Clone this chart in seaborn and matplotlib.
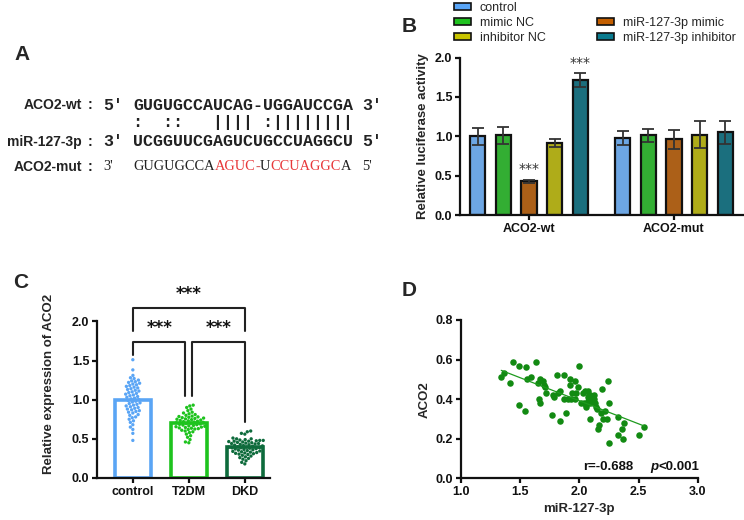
import numpy as np
import pandas as pd
import matplotlib
matplotlib.use('Agg')
import matplotlib.pyplot as plt
from matplotlib.patches import Patch
import seaborn as sns

# ---------------- data ----------------
# A: binding site sequences
wt_seq = 'GUGUGCCAUCAG-UGGAUCCGA'
pair_line = ':  ::   |||| :||||||||'
mir_seq = 'UCGGUUCGAGUCUGCCUAGGCU'
mut_parts = ['GUGUGCCA', 'AGUC', '-', 'U', 'CCUAGGC', 'A']
mut_colors = ['#222222', '#e8383a', '#d86060', '#222222', '#e8383a', '#222222']

# B: dual luciferase assay
constructs = ['ACO2-wt', 'ACO2-mut']
groups = ['control', 'mimic NC', 'miR-127-3p mimic', 'inhibitor NC', 'miR-127-3p inhibitor']
group_colors = ['#59a5f7', '#1fc21f', '#c45f00', '#c8c400', '#0a7b8f']
luc_wt = [1.00, 1.01, 0.43, 0.91, 1.71]
luc_wt_sd = [0.11, 0.11, 0.02, 0.05, 0.09]
luc_mut = [0.98, 1.01, 0.96, 1.02, 1.05]
luc_mut_sd = [0.09, 0.085, 0.125, 0.175, 0.145]
luc_wt_sig = ['', '', '***', '', '***']

# C: ACO2 expression per patient
c_groups = ['control', 'T2DM', 'DKD']
c_colors = ['#5aa5f5', '#1ec31e', '#0e6b3c']
expr_control = [1.51, 1.38, 1.31, 1.28, 1.27, 1.25, 1.24, 1.22, 1.21, 1.20,
                1.18, 1.17, 1.16, 1.14, 1.13, 1.12, 1.10, 1.09, 1.08, 1.06,
                1.05, 1.04, 1.02, 1.01, 1.00, 0.99, 0.97, 0.96, 0.95, 0.93,
                0.92, 0.91, 0.89, 0.88, 0.87, 0.85, 0.84, 0.83, 0.81, 0.80,
                0.78, 0.77, 0.75, 0.73, 0.71, 0.68, 0.65, 0.62, 0.57, 0.48,
                1.23, 1.19, 1.11, 1.03, 0.98, 0.94, 0.90, 0.86, 1.15, 1.07]
expr_t2dm = [0.93, 0.92, 0.90, 0.88, 0.86, 0.84, 0.83, 0.82, 0.81, 0.80,
             0.79, 0.785, 0.78, 0.77, 0.765, 0.76, 0.75, 0.745, 0.74, 0.73,
             0.725, 0.72, 0.71, 0.705, 0.70, 0.695, 0.69, 0.68, 0.675, 0.67,
             0.66, 0.655, 0.65, 0.64, 0.635, 0.63, 0.62, 0.61, 0.60, 0.59,
             0.58, 0.56, 0.54, 0.52, 0.49, 0.46, 0.45, 0.715, 0.685, 0.755,
             0.645, 0.775, 0.625, 0.735, 0.665]
expr_dkd = [0.60, 0.59, 0.57, 0.56, 0.50, 0.44, 0.48, 0.47, 0.51, 0.50,
            0.49, 0.485, 0.48, 0.47, 0.465, 0.46, 0.45, 0.445, 0.44, 0.43,
            0.425, 0.42, 0.41, 0.405, 0.40, 0.395, 0.39, 0.385, 0.38, 0.375,
            0.37, 0.365, 0.36, 0.35, 0.345, 0.34, 0.33, 0.325, 0.32, 0.31,
            0.30, 0.29, 0.28, 0.27, 0.26, 0.25, 0.24, 0.22, 0.20, 0.18,
            0.415, 0.355, 0.435, 0.335, 0.455, 0.315, 0.475, 0.305, 0.395, 0.385]
# brackets: (left group, right group, bar height, left leg end, right leg end, label)
c_brackets = [(0, 2, 2.17, 1.88, 1.88, '***'),
              (0, 1, 1.74, 1.57, 1.05, '***'),
              (1, 2, 1.74, 1.05, 0.71, '***')]

# D: correlation
mir_level = [1.34, 1.36, 1.41, 1.44, 1.49, 1.49, 1.54, 1.55, 1.56, 1.59, 1.63, 1.65,
             1.67, 1.66, 1.67, 1.70, 1.71, 1.72, 1.77, 1.78, 1.79, 1.81, 1.84, 1.84,
             1.87, 1.87, 1.89, 1.90, 1.92, 1.92, 1.94, 1.96, 1.96, 1.97, 1.99, 2.00,
             2.01, 2.03, 2.04, 2.06, 2.06, 2.07, 2.07, 2.09, 2.09, 2.10, 2.12, 2.13,
             2.15, 2.16, 2.17, 2.18, 2.19, 2.20, 2.22, 2.23, 2.24, 2.25, 2.25, 2.33,
             2.33, 2.36, 2.37, 2.38, 2.50, 2.55,
             2.05, 2.08, 2.10, 2.07, 2.12, 2.09, 1.93, 1.82, 1.69, 2.14]
aco2_level = [0.51, 0.53, 0.48, 0.59, 0.57, 0.37, 0.34, 0.56, 0.50, 0.51, 0.59, 0.48,
              0.50, 0.40, 0.38, 0.47, 0.46, 0.43, 0.32, 0.42, 0.41, 0.52, 0.44, 0.29,
              0.52, 0.40, 0.33, 0.40, 0.47, 0.50, 0.43, 0.40, 0.49, 0.43, 0.46, 0.57,
              0.38, 0.43, 0.38, 0.37, 0.36, 0.44, 0.41, 0.30, 0.42, 0.40, 0.40, 0.38,
              0.35, 0.25, 0.27, 0.33, 0.45, 0.30, 0.34, 0.30, 0.49, 0.38, 0.18, 0.31,
              0.22, 0.25, 0.20, 0.28, 0.22, 0.26,
              0.44, 0.42, 0.41, 0.39, 0.42, 0.38, 0.40, 0.43, 0.49, 0.36]

# ---------------- style ----------------
sns.set_style('ticks')
plt.rcParams['font.family'] = ['Liberation Sans', 'DejaVu Sans']
plt.rcParams['font.weight'] = 'bold'
plt.rcParams['axes.labelweight'] = 'bold'
plt.rcParams['axes.labelsize'] = 9.5
plt.rcParams['xtick.labelsize'] = 9
plt.rcParams['ytick.labelsize'] = 9
plt.rcParams['axes.linewidth'] = 1.6
plt.rcParams['axes.edgecolor'] = '#111111'
for a in ['xtick', 'ytick']:
    plt.rcParams[a + '.major.width'] = 1.6
    plt.rcParams[a + '.major.size'] = 3.5
    plt.rcParams[a + '.major.pad'] = 2
    plt.rcParams[a + '.color'] = '#111111'

W, H = 744, 520
fig = plt.figure(figsize=(W / 100, H / 100), dpi=100)


def px_axes(left, top, right, bottom):
    return fig.add_axes([left / W, 1 - bottom / H, (right - left) / W, (bottom - top) / H])


# overlay for free text (pixel coords), kept above the panels
ax0 = fig.add_axes([0, 0, 1, 1])
ax0.axis('off')
ax0.set_xlim(0, W)
ax0.set_ylim(H, 0)
ax0.set_zorder(10)

for letter, (lx, ly) in zip('ABCD', [(14, 55), (402, 27), (13, 283), (402, 290)]):
    ax0.text(lx, ly, letter, fontsize=15, weight='bold', va='center')

# ---------------- A ----------------
mono = dict(family='Liberation Mono', weight='bold', fontsize=12, va='center', color='#222222')
for label, y in [('ACO2-wt', 105), ('miR-127-3p', 142), ('ACO2-mut', 167)]:
    ax0.text(82, y, label, ha='right', va='center', fontsize=10, weight='bold', color='#222222')
    ax0.text(88, y, ':', va='center', fontsize=10, weight='bold', color='#222222')
ax0.text(103, 105, "5'", **mono)
ax0.text(133, 105, wt_seq, **mono)
ax0.text(362, 105, "3'", **mono)
ax0.text(133, 123, pair_line, **mono)
ax0.text(103, 142, "3'", **mono)
ax0.text(133, 142, mir_seq, **mono)
ax0.text(362, 142, "5'", **mono)

serif = dict(family='Liberation Serif', weight='normal', fontsize=10.4, va='center')
ax0.text(103, 167, "3'", color='#222222', **serif)
prev = ax0.text(133, 167, mut_parts[0], color=mut_colors[0], **serif)
for part, col in zip(mut_parts[1:], mut_colors[1:]):
    prev = ax0.annotate(part, xy=(1, 0.5), xycoords=prev, ha='left', color=col, **serif)
ax0.text(362, 167, "5'", color='#222222', **serif)

# ---------------- B ----------------
df_b = pd.DataFrame({
    'construct': np.repeat(constructs, len(groups)),
    'group': groups * len(constructs),
    'value': luc_wt + luc_mut,
})
axb = px_axes(460, 57.5, 743, 215)
sns.barplot(data=df_b, x='construct', y='value', hue='group', order=constructs,
            hue_order=groups, palette=group_colors, errorbar=None, width=0.886, gap=0.4,
            edgecolor='#111111', linewidth=1.6, legend=False, ax=axb)
sds = [luc_wt_sd, luc_mut_sd]
bar_containers = list(axb.containers)
for i, cont in enumerate(bar_containers):
    for j, bar in enumerate(cont.patches):
        xc = bar.get_x() + bar.get_width() / 2
        h = bar.get_height()
        axb.errorbar(xc, h, yerr=sds[j][i], fmt='none', ecolor='#333333',
                     elinewidth=1.3, capsize=4.5, capthick=1.3, zorder=4)
        if j == 0 and luc_wt_sig[i]:
            axb.text(xc, h + sds[j][i] + 0.04, luc_wt_sig[i], ha='center', va='bottom',
                     family='DejaVu Sans', weight='normal', fontsize=10, color='#333333')
axb.set_ylim(0, 2.0)
axb.set_xlim(-0.476, 1.476)
axb.set_yticks([0, 0.5, 1.0, 1.5, 2.0])
axb.yaxis.set_major_formatter('{x:.1f}')
axb.set_xlabel('')
axb.set_ylabel('Relative luciferase activity')
sns.despine(ax=axb)

handles = [Patch(facecolor=c, edgecolor='#111111', linewidth=1.2) for c in group_colors]
blank = Patch(visible=False)
leg_handles = [handles[0], handles[1], handles[3], blank, handles[2], handles[4]]
leg_labels = [groups[0], groups[1], groups[3], '', groups[2], groups[4]]
fig.legend(leg_handles, leg_labels, loc='upper left', bbox_to_anchor=(452 / W, 1.0),
           ncol=2, frameon=False, borderpad=0.15, borderaxespad=0, labelspacing=0.25,
           handlelength=1.35, handleheight=0.55, handletextpad=0.7, columnspacing=4.15,
           prop=dict(family='Liberation Sans', weight='normal', size=9))

# ---------------- C ----------------
df_c = pd.DataFrame({
    'group': ['control'] * len(expr_control) + ['T2DM'] * len(expr_t2dm) + ['DKD'] * len(expr_dkd),
    'value': expr_control + expr_t2dm + expr_dkd,
})
axc = px_axes(97, 290, 270, 478)
sns.barplot(data=df_c, x='group', y='value', hue='group', order=c_groups,
            hue_order=c_groups, palette=c_colors, errorbar=None, fill=False,
            width=0.64, linewidth=2.6, legend=False, ax=axc)
sns.swarmplot(data=df_c, x='group', y='value', hue='group', order=c_groups,
              hue_order=c_groups, palette=c_colors, size=2.4, legend=False, ax=axc, zorder=3)
for x1, x2, yb, l1, l2, lab in c_brackets:
    xa = x1 + (0.06 if x1 == 1 else 0)
    xb = x2 - (0.06 if x2 == 1 else 0)
    axc.plot([xa, xa, xb, xb], [l1, yb, yb, l2], color='#222222', lw=1.5, clip_on=False)
    axc.text((xa + xb) / 2, yb + 0.06, lab, ha='center', va='bottom', family='DejaVu Sans',
             weight='bold', fontsize=12, color='#111111')
axc.set_ylim(0, 2.4)
axc.set_xlim(-0.64, 2.45)
axc.set_yticks([0, 0.5, 1.0, 1.5, 2.0])
axc.yaxis.set_major_formatter('{x:.1f}')
axc.set_xlabel('')
axc.set_ylabel('Relative expression of ACO2', labelpad=12)
sns.despine(ax=axc)
axc.spines['left'].set_bounds(0, 2.0)

# ---------------- D ----------------
axd = px_axes(461, 320, 697.7, 478.3)
sns.regplot(x=mir_level, y=aco2_level, ci=None, ax=axd,
            scatter_kws=dict(s=22, color='#128a12', linewidths=0, alpha=1),
            line_kws=dict(color='#1e9a1e', lw=0.9))
axd.set_xlim(1.0, 3.0)
axd.set_ylim(0, 0.8)
axd.set_xticks([1.0, 1.5, 2.0, 2.5, 3.0])
axd.set_yticks([0, 0.2, 0.4, 0.6, 0.8])
axd.xaxis.set_major_formatter('{x:.1f}')
axd.yaxis.set_major_formatter('{x:.1f}')
axd.set_xlabel('miR-127-3p')
axd.set_ylabel('ACO2')
sns.despine(ax=axd)

ax0.text(583, 467, 'r=-0.688', va='center', fontsize=9.5, weight='bold', color='#111111')
p_txt = ax0.text(650, 467, 'p', va='center', fontsize=9.5, weight='bold', style='italic', color='#111111')
ax0.annotate('<0.001', xy=(1, 0.5), xycoords=p_txt, va='center', ha='left', fontsize=9.5,
             weight='bold', color='#111111')

fig.savefig('out.png', dpi=100)
